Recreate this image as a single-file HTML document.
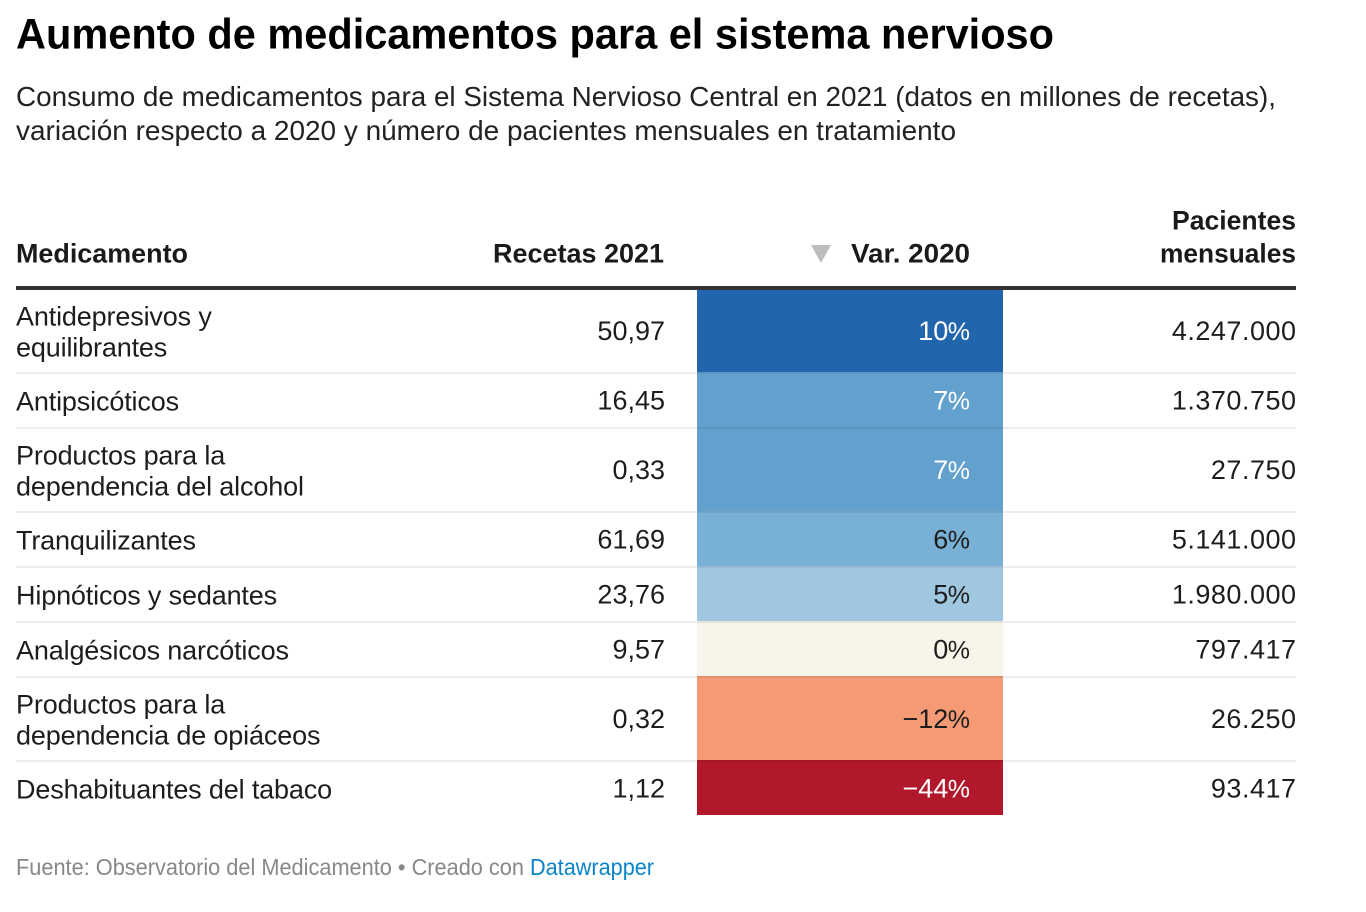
<!DOCTYPE html>
<html lang="es">
<head>
<meta charset="utf-8">
<title>Aumento de medicamentos para el sistema nervioso</title>
<style>
html,body{margin:0;padding:0;background:#fff;width:1366px;height:912px;overflow:hidden}
svg{display:block;font-family:"Liberation Sans",Arial,sans-serif}
.cell{font-size:27px;fill:#1d1d1d}
.label{letter-spacing:-0.15px}
.patients{letter-spacing:0.5px}
.head{font-size:27px;font-weight:700;fill:#1a1a1a}
</style>
</head>
<body>
<svg id="table" xmlns="http://www.w3.org/2000/svg" width="1366" height="912" viewBox="0 0 1366 912">
  <text x="16" y="48.5" font-size="43" font-weight="700" fill="#000" textLength="1038" lengthAdjust="spacingAndGlyphs">Aumento de medicamentos para el sistema nervioso</text>
  <text x="16" y="106" font-size="28" fill="#222" textLength="1260" lengthAdjust="spacingAndGlyphs">Consumo de medicamentos para el Sistema Nervioso Central en 2021 (datos en millones de recetas),</text>
  <text x="16" y="140" font-size="28" fill="#222" textLength="940" lengthAdjust="spacingAndGlyphs">variación respecto a 2020 y número de pacientes mensuales en tratamiento</text>

  <text class="head" x="16" y="262.5" textLength="172" lengthAdjust="spacingAndGlyphs">Medicamento</text>
  <text class="head" x="664" y="262.5" text-anchor="end" textLength="171" lengthAdjust="spacingAndGlyphs">Recetas 2021</text>
  <polygon points="811,245 831,245 821,263" fill="#bdbdbd"></polygon>
  <text class="head" x="970" y="262.5" text-anchor="end" textLength="119" lengthAdjust="spacingAndGlyphs">Var. 2020</text>
  <text class="head" x="1296" y="229.5" text-anchor="end" textLength="124" lengthAdjust="spacingAndGlyphs">Pacientes</text>
  <text class="head" x="1296" y="262.5" text-anchor="end" textLength="136" lengthAdjust="spacingAndGlyphs">mensuales</text>

  <g id="rows"></g>
  <rect x="16" y="286" width="1280" height="4" fill="#333"></rect>

  <text x="16" y="875" font-size="23" fill="#888" textLength="508" lengthAdjust="spacingAndGlyphs">Fuente: Observatorio del Medicamento • Creado con</text>
  <text x="530" y="875" font-size="23" fill="#0a84c8" textLength="124" lengthAdjust="spacingAndGlyphs">Datawrapper</text>
</svg>
<script>
var medications = [
  ["Antidepresivos y", "equilibrantes"],
  ["Antipsicóticos"],
  ["Productos para la", "dependencia del alcohol"],
  ["Tranquilizantes"],
  ["Hipnóticos y sedantes"],
  ["Analgésicos narcóticos"],
  ["Productos para la", "dependencia de opiáceos"],
  ["Deshabituantes del tabaco"]
];
var prescriptions = [50.97, 16.45, 0.33, 61.69, 23.76, 9.57, 0.32, 1.12];
var variation = [10, 7, 7, 6, 5, 0, -12, -44];
var patients = [4247000, 1370750, 27750, 5141000, 1980000, 797417, 26250, 93417];

var colorDomain = [-44, -12, 0, 5, 6, 7, 10];
var colorRange = ["#b2182b", "#f49b76", "#f7f5e9", "#a0c7e0", "#79b0d5", "#62a0cd", "#2166ac"];

function hexToRgb(h) {
  return [parseInt(h.substr(1, 2), 16), parseInt(h.substr(3, 2), 16), parseInt(h.substr(5, 2), 16)];
}
function colorScale(v) {
  var last = colorDomain.length - 1;
  if (v <= colorDomain[0]) return colorRange[0];
  if (v >= colorDomain[last]) return colorRange[last];
  for (var i = 0; i < last; i++) {
    if (v <= colorDomain[i + 1]) {
      var t = (v - colorDomain[i]) / (colorDomain[i + 1] - colorDomain[i]);
      var a = hexToRgb(colorRange[i]), b = hexToRgb(colorRange[i + 1]);
      return "rgb(" + a.map(function (c, k) { return Math.round(c + (b[k] - c) * t); }).join(",") + ")";
    }
  }
}
function textColor(v) {
  return (v >= 7 || v <= -20) ? "#ffffff" : "#1d1d1d";
}
function formatDecimal(v) {
  return v.toFixed(2).replace(".", ",");
}
function formatThousands(v) {
  return String(v).replace(/\B(?=(\d{3})+(?!\d))/g, ".");
}
function formatNumberPart(v) {
  return v < 0 ? "\u2212" + Math.abs(v) : String(v);
}

var NS = "http://www.w3.org/2000/svg";
var group = document.getElementById("rows");
var lineHeight = 31;
var cellLeft = 697;
var cellWidth = 306;
var y = 288;

function addText(parent, content, x, baseline, anchor, fill) {
  var t = document.createElementNS(NS, "text");
  t.setAttribute("class", "cell");
  t.setAttribute("x", x);
  t.setAttribute("y", baseline);
  t.setAttribute("text-anchor", anchor);
  if (fill) t.setAttribute("style", "fill:" + fill);
  t.textContent = content;
  parent.appendChild(t);
  return t;
}

var rules = [];
medications.forEach(function (lines, i) {
  var h = lines.length > 1 ? 84 : 55;
  var mid = y + h / 2;
  var base = mid + 11;

  var rowGroup = document.createElementNS(NS, "g");
  
  
  group.appendChild(rowGroup);

  var rect = document.createElementNS(NS, "rect");
  
  
  rect.setAttribute("x", cellLeft);
  rect.setAttribute("y", y);
  rect.setAttribute("width", cellWidth);
  rect.setAttribute("height", h);
  rect.setAttribute("fill", colorScale(variation[i]));
  rowGroup.appendChild(rect);

  lines.forEach(function (line, k) {
    var offset = (k - (lines.length - 1) / 2) * lineHeight;
    var label = addText(rowGroup, line, 16, base + offset, "start");
    label.setAttribute("class", "cell label");
    
    
  });

  var rx = addText(rowGroup, formatDecimal(prescriptions[i]), 665, base - 1, "end");
  
  

  var pct = addText(rowGroup, formatNumberPart(variation[i]), 970, base - 1, "end", textColor(variation[i]));
  
  
  var pctSign = document.createElementNS(NS, "tspan");
  pctSign.setAttribute("dx", "-0.5");
  pctSign.setAttribute("font-size", "25");
  pctSign.textContent = "%";
  pct.appendChild(pctSign);

  var pat = addText(rowGroup, formatThousands(patients[i]), 1296.5, base - 1, "end");
  pat.setAttribute("class", "cell patients");
  
  

  y += h;
  if (i < medications.length - 1) rules.push(y);
});

rules.forEach(function (ry) {
  var divider = document.createElementNS(NS, "rect");
  
  
  divider.setAttribute("x", 16);
  divider.setAttribute("y", ry);
  divider.setAttribute("width", 1280);
  divider.setAttribute("height", 2);
  divider.setAttribute("fill", "#000");
  divider.setAttribute("fill-opacity", "0.07");
  group.appendChild(divider);
});
</script>
</body>
</html>
